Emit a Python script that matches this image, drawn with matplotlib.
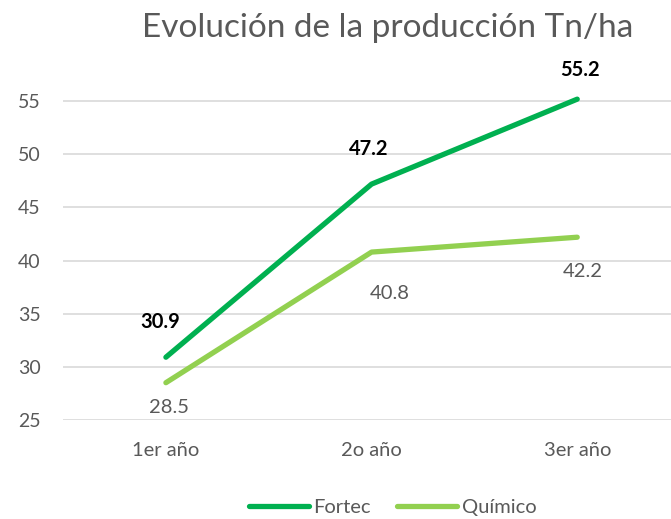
import matplotlib
matplotlib.use("Agg")
import matplotlib.pyplot as plt

plt.rcParams['font.family'] = ['Lato', 'DejaVu Sans']

categories = ["1er año", "2o año", "3er año"]
fortec = [30.9, 47.2, 55.2]
quimico = [28.5, 40.8, 42.2]
yticks = [25, 30, 35, 40, 45, 50, 55]

# label offsets in points
fortec_off = [(-4, 25), (-2, 25), (2, 21)]
quimico_off = [(2, -18), (13, -30), (4, -25)]

grey = "#595959"
c_fortec = "#00B050"
c_quim = "#92D050"

fig = plt.figure(figsize=(6.71, 5.19), dpi=100)
ax = fig.add_axes([0.094, 0.191, 0.906, 0.62])

x = list(range(len(categories)))
ax.plot(x, fortec, color=c_fortec, lw=3.8, solid_capstyle='round', label="Fortec", clip_on=False, zorder=3)
ax.plot(x, quimico, color=c_quim, lw=3.8, solid_capstyle='round', label="Químico", clip_on=False, zorder=3)

for xi, v, off in zip(x, fortec, fortec_off):
    ax.annotate(f"{v:.1f}", (xi, v), xytext=off, textcoords="offset points",
                ha="center", va="center", fontsize=14.5, fontweight="bold", color="black")
for xi, v, off in zip(x, quimico, quimico_off):
    ax.annotate(f"{v:.1f}", (xi, v), xytext=off, textcoords="offset points",
                ha="center", va="center", fontsize=14.5, color=grey)

ax.set_xlim(-0.5, 2.456)
ax.set_ylim(25, 55.3)
ax.set_yticks(yticks)
ax.set_xticks(x)
ax.set_xticklabels(categories)
ax.tick_params(axis='both', length=0, labelsize=14.5, colors=grey)
ax.tick_params(axis='y', labelsize=14)
ax.tick_params(axis='x', pad=16)
ax.tick_params(axis='y', pad=16)
ax.grid(axis='y', color="#D9D9D9", lw=1.2)
ax.set_axisbelow(True)
for s in ax.spines.values():
    s.set_visible(False)

fig.text(0.578, 0.947, "Evolución de la producción Tn/ha", ha="center", va="center",
         fontsize=24, color=grey)

leg = fig.legend(loc="center", bbox_to_anchor=(0.585, 0.022), ncol=2, frameon=False,
                 fontsize=14.5, handlelength=3.0, handletextpad=0.2, columnspacing=1.3)
for t in leg.get_texts():
    t.set_color(grey)

fig.savefig("out.png", dpi=100)
